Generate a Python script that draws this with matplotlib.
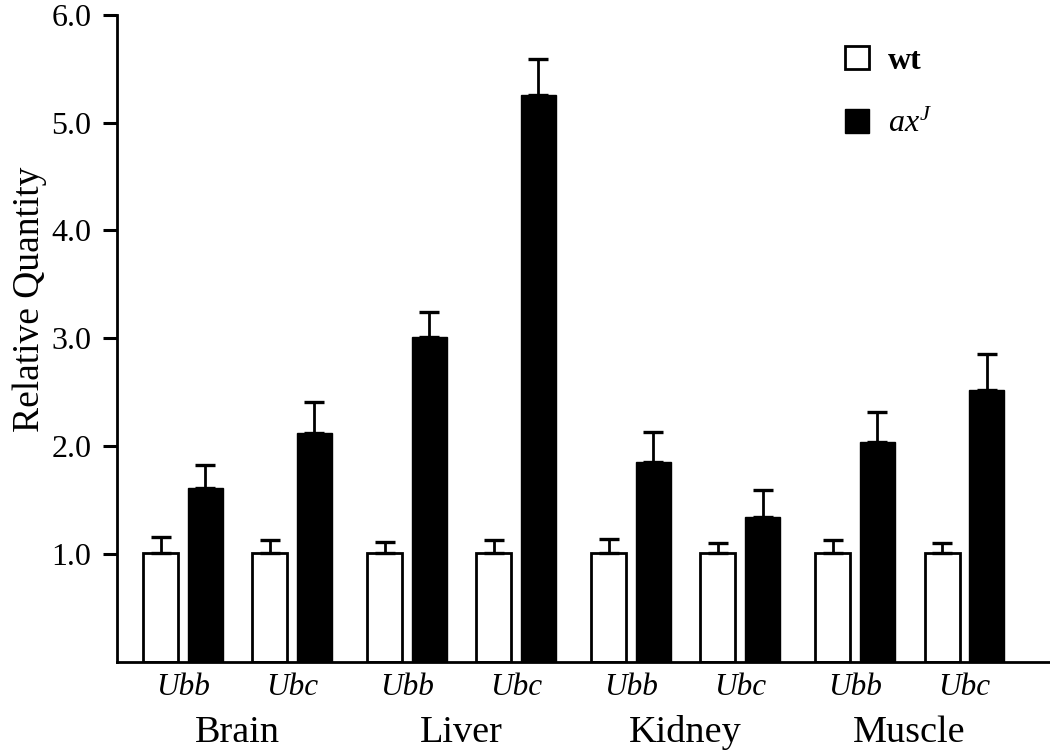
import numpy as np
import matplotlib
matplotlib.use("Agg")
import matplotlib.pyplot as plt
from matplotlib.patches import Patch

# Data
tissues = ["Brain", "Liver", "Kidney", "Muscle"]
genes = ["Ubb", "Ubc", "Ubb", "Ubc", "Ubb", "Ubc", "Ubb", "Ubc"]
wt_mean = [1.01, 1.01, 1.01, 1.01, 1.01, 1.01, 1.01, 1.01]
wt_err = [0.15, 0.12, 0.10, 0.12, 0.13, 0.09, 0.12, 0.09]
axj_mean = [1.61, 2.12, 3.01, 5.26, 1.85, 1.34, 2.04, 2.52]
axj_err = [0.21, 0.29, 0.23, 0.33, 0.28, 0.25, 0.28, 0.33]
yticks = [1.0, 2.0, 3.0, 4.0, 5.0, 6.0]

plt.rcParams["font.family"] = ["Liberation Serif", "DejaVu Serif"]
plt.rcParams["mathtext.fontset"] = "custom"
plt.rcParams["mathtext.rm"] = "Liberation Serif"
plt.rcParams["mathtext.it"] = "Liberation Serif:italic"

fig = plt.figure(figsize=(10.5, 7.53), dpi=100)
ax = fig.add_axes([0.111, 0.1215, 0.889, 0.8586])

# positions: pairs within a tissue slightly closer than across tissues
tissue_idx = np.repeat(np.arange(len(tissues)), 2)
x = np.arange(len(genes)) + tissue_idx * 0.048
width = 0.32
offset = 0.407

err_kw = dict(elinewidth=2.0, capthick=2.4, capsize=7.2, ecolor="black")
ax.bar(x, wt_mean, width, color="white", edgecolor="black", linewidth=2.0,
       yerr=[np.zeros(len(wt_err)), wt_err], error_kw=err_kw, zorder=2)
ax.bar(x + offset, axj_mean, width, color="black", edgecolor="black", linewidth=1.0,
       yerr=[np.zeros(len(axj_err)), axj_err], error_kw=err_kw, zorder=2)

ax.set_xlim(x[0] - 0.402, x[0] - 0.402 + 8.533)
ax.set_ylim(0, 6.0)
ax.set_yticks(yticks)
ax.set_yticklabels([f"{v:.1f}" for v in yticks], fontsize=23)
ax.tick_params(axis="y", direction="out", length=10, width=2.2, pad=8)
ax.set_xticks([])

for s in ["top", "right"]:
    ax.spines[s].set_visible(False)
ax.spines["left"].set_linewidth(2.0)
ax.spines["bottom"].set_linewidth(2.0)

ax.set_ylabel("Relative Quantity", fontsize=27)
ax.yaxis.set_label_coords(-0.074, 0.56)

# gene labels under each pair, tissue labels under each pair of pairs
pair_centers = x + offset / 2
for xc, g in zip(pair_centers, genes):
    ax.text(xc, -0.24, g, ha="center", va="center", fontsize=22.5,
            style="italic")
for i, t in enumerate(tissues):
    xc = pair_centers[2 * i:2 * i + 2].mean()
    ax.text(xc, -0.66, t, ha="center", va="center", fontsize=27.5)

handles = [Patch(facecolor="white", edgecolor="black", linewidth=2.0),
           Patch(facecolor="black", edgecolor="black")]
leg = ax.legend(handles, ["wt", r"$ax^{J}$"], loc="upper left",
                bbox_to_anchor=(845 / 1050, 1 - 46 / 753),
                bbox_transform=fig.transFigure, frameon=False,
                fontsize=23, handlelength=0.75, handleheight=0.75,
                handletextpad=0.6, labelspacing=1.05, borderpad=0,
                borderaxespad=0)
leg.get_texts()[0].set_fontweight("bold")

fig.savefig("out.png", dpi=100)
plt.close(fig)
